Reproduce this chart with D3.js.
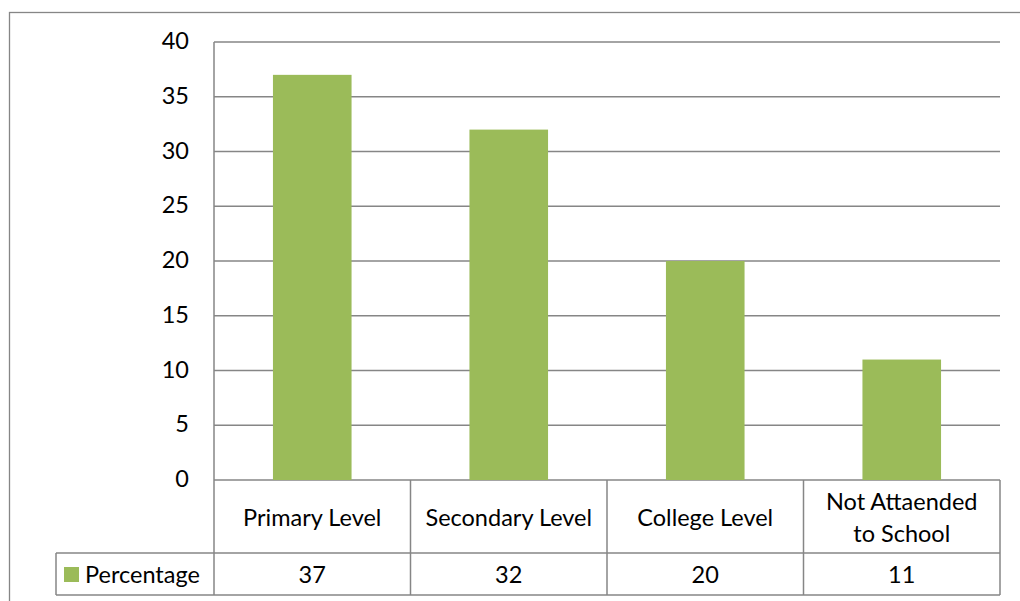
<!DOCTYPE html>
<html>
<head>
<meta charset="utf-8">
<script src="https://cdn.jsdelivr.net/npm/d3@7"></script>
<style>
  body { margin: 0; background: #fff; }
  svg text { font-family: Lato, "Open Sans", sans-serif; fill: #000; }
</style>
</head>
<body>
<div id="chart"></div>
<script>

let categories = ["Primary Level", "Secondary Level", "College Level", "Not Attaended\nto School"];
let percentage = [37, 32, 20, 11];
let y_ticks = [0, 5, 10, 15, 20, 25, 30, 35, 40];
let series_name = "Percentage";

let chart_width = 1020;
let chart_height = 601;

let plot_left = 214;
let plot_right = 1000;
let plot_top = 42;
let plot_bottom = 480;
let row1_bottom = 553;
let row2_bottom = 595;
let legend_left = 56;

let font_size = "23.5px";
let grid_color = "#868686";
let bar_color = "#9BBB59";

let svg = d3.select("#chart")
            .append("svg")
            .attr("width", chart_width)
            .attr("height", chart_height);

// outer chart border (runs off the picture right and bottom)
svg.append("rect")
    .attr("x", 9.5)
    .attr("y", 12.5)
    .attr("width", 1030)
    .attr("height", 620)
    .attr("fill", "none")
    .attr("stroke", grid_color)
    .attr("stroke-width", 1.3);

let xScale = d3.scaleBand()
                .domain(categories)
                .range([plot_left, plot_right])
                .paddingInner(0.6)
                .paddingOuter(0.3);

let xCells = d3.scaleBand()
                .domain(categories)
                .range([plot_left, plot_right]);

let yScale = d3.scaleLinear()
                .domain([0, 40])
                .range([plot_bottom, plot_top]);

// gridlines
svg.selectAll(".grid")
    .data(y_ticks)
    .enter()
    .append("line")
    .attr("class", "grid")
    .attr("x1", plot_left)
    .attr("x2", plot_right)
    .attr("y1", d => yScale(d))
    .attr("y2", d => yScale(d))
    .attr("stroke", grid_color)
    .attr("stroke-width", 1.5);

// left axis line
svg.append("line")
    .attr("x1", plot_left).attr("x2", plot_left)
    .attr("y1", plot_top).attr("y2", row2_bottom)
    .attr("stroke", grid_color)
    .attr("stroke-width", 1.5);

// y labels
svg.selectAll(".ylab")
    .data(y_ticks)
    .enter()
    .append("text")
    .attr("class", "ylab")
    .attr("x", 189)
    .attr("y", d => yScale(d))
    .attr("dy", "-0.08em")
    .attr("text-anchor", "end")
    .attr("dominant-baseline", "central")
    .style("font-size", font_size)
    .text(d => d);

// bars
svg.selectAll(".bar")
    .data(percentage)
    .enter()
    .append("rect")
    .attr("class", "bar")
    .attr("x", (d, i) => xScale(categories[i]))
    .attr("y", d => yScale(d))
    .attr("width", xScale.bandwidth())
    .attr("height", d => plot_bottom - yScale(d))
    .attr("fill", bar_color);

// data table lines
let table = svg.append("g");
table.selectAll(".hline")
    .data([row1_bottom, row2_bottom])
    .enter()
    .append("line")
    .attr("x1", legend_left)
    .attr("x2", plot_right)
    .attr("y1", d => d)
    .attr("y2", d => d)
    .attr("stroke", grid_color)
    .attr("stroke-width", 1.5);

let col_edges = categories.map(c => xCells(c) + xCells.bandwidth());
table.selectAll(".vline")
    .data(col_edges)
    .enter()
    .append("line")
    .attr("x1", d => d)
    .attr("x2", d => d)
    .attr("y1", plot_bottom)
    .attr("y2", row2_bottom)
    .attr("stroke", grid_color)
    .attr("stroke-width", 1.5);

table.append("line")
    .attr("x1", legend_left).attr("x2", legend_left)
    .attr("y1", row1_bottom).attr("y2", row2_bottom)
    .attr("stroke", grid_color)
    .attr("stroke-width", 1.5);

// category labels
categories.forEach(function(c) {
    let lines = c.split("\n");
    let cx = xCells(c) + xCells.bandwidth() / 2;
    let cy = (plot_bottom + row1_bottom) / 2;
    let t = table.append("text")
        .attr("x", cx)
        .attr("text-anchor", "middle")
        .style("font-size", font_size);
    lines.forEach(function(l, j) {
        t.append("tspan")
            .attr("x", cx)
            .attr("y", cy + (j - (lines.length - 1) / 2) * 32)
            .attr("dominant-baseline", "central")
            .text(l);
    });
});

// values row
table.selectAll(".val")
    .data(percentage)
    .enter()
    .append("text")
    .attr("x", (d, i) => xCells(categories[i]) + xCells.bandwidth() / 2)
    .attr("y", (row1_bottom + row2_bottom) / 2)
    .attr("text-anchor", "middle")
    .attr("dominant-baseline", "central")
    .style("font-size", font_size)
    .text(d => d);

// legend key
table.append("rect")
    .attr("x", 64)
    .attr("y", 567)
    .attr("width", 15)
    .attr("height", 15)
    .attr("fill", bar_color);

table.append("text")
    .attr("x", 85)
    .attr("y", (row1_bottom + row2_bottom) / 2)
    .attr("dominant-baseline", "central")
    .style("font-size", font_size)
    .text(series_name);

</script>
</body>
</html>
